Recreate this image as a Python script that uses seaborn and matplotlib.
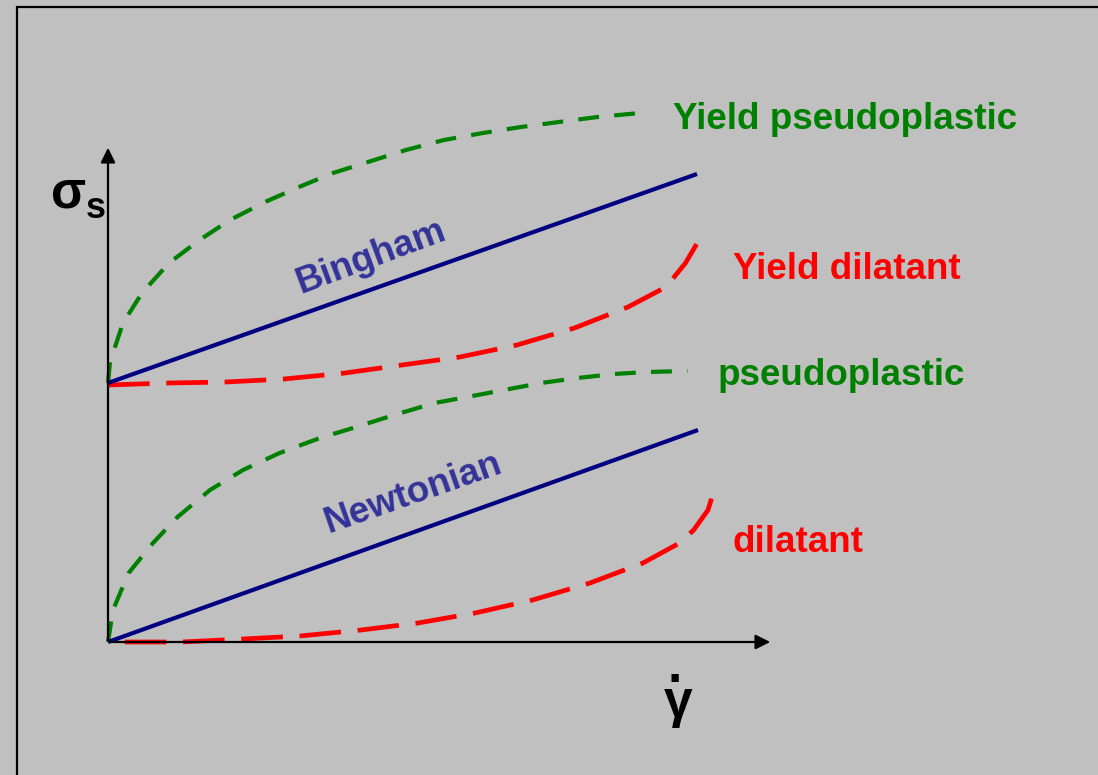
import matplotlib
matplotlib.use("Agg")
import matplotlib.pyplot as plt
import matplotlib.patches as mpatches
import seaborn as sns

sns.set_theme(style="white")
plt.rcParams['font.family'] = ['Liberation Sans', 'DejaVu Sans']
plt.rcParams['lines.scale_dashes'] = False

# Flow curves: shear rate (x) vs shear stress (y), arbitrary units
newton_x = [0, 590]
newton_y = [0, 212]

bingham_x = [0, 589]
bingham_y = [259, 468]

pseudo_x = [0, 5, 20.6, 45, 69.5, 102, 135, 171.6, 212, 245, 286, 326.6, 359, 396, 433, 469.5, 506, 539, 579.6]
pseudo_y = [0, 32, 69, 99, 125, 152, 172, 189, 204, 214, 227, 239, 245, 252, 259, 264, 268, 270, 271]

ypseudo_x = [0, 2, 15, 34, 61, 91.5, 122, 157, 191, 225, 260, 298, 336, 375, 413, 451, 489.5, 532]
ypseudo_y = [259, 280, 319, 349, 379, 402, 422, 440, 455, 469, 480, 492, 502, 509, 515, 520, 525, 529]

dil_x = [0, 73.6, 135, 192, 253, 310, 367, 424.6, 482, 535, 571.6, 585.7, 600, 604]
dil_y = [0, 0, 3, 6, 12, 19, 29, 42, 59, 79, 99, 112, 132, 145]

ydil_x = [0, 61, 118, 176, 237, 294, 352, 409, 466.5, 520, 558, 577.5, 591]
ydil_y = [257, 259, 260, 263, 269, 277, 285, 297, 314, 335, 355, 379, 402]

labels = ["Yield pseudoplastic", "Yield dilatant", "pseudoplastic", "dilatant"]
label_x = [565, 625, 610, 625]
label_y = [513, 363, 257, 90]
label_colors = ["#008000", "#FF0000", "#008000", "#FF0000"]

bg = "#C0C0C0"
fig = plt.figure(figsize=(10.98, 7.75), dpi=100, facecolor=bg)
ax = fig.add_axes([0, 0, 1, 1])
ax.set_facecolor(bg)
ax.set_xlim(-108, 990)
ax.set_ylim(-133, 642)
ax.axis("off")

# outer frame (only top and left visible)
fig.patches.append(mpatches.Rectangle((17 / 1098, -0.2), 1.5, 1.2 - 7 / 775,
                                      transform=fig.transFigure, fill=False,
                                      edgecolor="black", linewidth=1.6))

# axes with arrows
ax.annotate("", xy=(0, 497), xytext=(0, -1),
            arrowprops=dict(arrowstyle="-|>", color="black", lw=1.6, mutation_scale=22))
ax.annotate("", xy=(665, 0), xytext=(-1, 0),
            arrowprops=dict(arrowstyle="-|>", color="black", lw=1.6, mutation_scale=22))

def curve(x, y, color, lw, dashes=None, offset=0):
    sns.lineplot(x=x, y=y, ax=ax, color=color, linewidth=lw, sort=False, estimator=None)
    line = ax.lines[-1]
    if dashes is not None:
        line.set_linestyle((offset, dashes))
    line.set_solid_capstyle("butt")

curve(dil_x, dil_y, "#FF0000", 3.4, (30, 12), offset=30)
curve(ydil_x, ydil_y, "#FF0000", 3.4, (30, 12))
curve(pseudo_x, pseudo_y, "#008000", 3.0, (15, 11))
curve(ypseudo_x, ypseudo_y, "#008000", 3.0, (15, 11))
curve(newton_x, newton_y, "#000080", 3.0)
curve(bingham_x, bingham_y, "#000080", 3.0)

fs = 26.5
for t, x, y, c in zip(labels, label_x, label_y, label_colors):
    ax.text(x, y, t, color=c, fontsize=fs, fontweight="bold", ha="left", va="baseline")

ax.text(266, 376, "Bingham", color="#333399", fontsize=fs, fontweight="bold",
        rotation=20.5, rotation_mode="anchor", ha="center", va="baseline")
ax.text(308.5, 140, "Newtonian", color="#333399", fontsize=fs, fontweight="bold",
        rotation=19.3, rotation_mode="anchor", ha="center", va="baseline")

# axis symbols
ax.text(-39, 435, "\u03c3", color="black", fontsize=37, fontweight="bold", ha="center", va="baseline")
ax.text(-12, 424, "s", color="black", fontsize=26, fontweight="bold", ha="center", va="baseline")
ax.text(570, -75, "\u03b3", color="black", fontsize=37, fontweight="bold", ha="center", va="baseline")
ax.text(566.5, -40, ".", color="black", fontsize=37, fontweight="bold", ha="center", va="baseline")

fig.savefig("out.png", dpi=100, facecolor=bg)
